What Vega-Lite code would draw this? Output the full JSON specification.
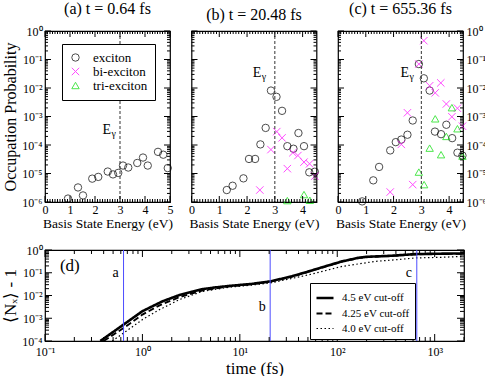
{
"$schema":"https://vega.github.io/schema/vega-lite/v6.json",
"background":"white",
"padding":{"left":1,"top":0,"right":2,"bottom":0},
"config":{
 "font":"Liberation Serif",
 "view":{"stroke":"black","strokeWidth":1.2},
 "axis":{"ticks":false,"domain":false,"grid":false,"labelOverlap":false,"labelFlush":false,"labelBound":false,"labelFont":"Liberation Serif","labelFontSize":12,"labelColor":"black","titleFont":"Liberation Serif","titleFontWeight":"normal","titleColor":"black"},
 "legend":{"labelFont":"Liberation Serif","titleFont":"Liberation Serif"},
 "title":{"font":"Liberation Serif"}
},
"datasets":{
 "occ":[
  {"panel":"a","type":"exciton","E":0.92,"P":1.32e-6},
  {"panel":"a","type":"exciton","E":1.32,"P":3.24e-6},
  {"panel":"a","type":"exciton","E":1.52,"P":1.70e-6},
  {"panel":"a","type":"exciton","E":1.89,"P":6.6e-6},
  {"panel":"a","type":"exciton","E":2.13,"P":7.6e-6},
  {"panel":"a","type":"exciton","E":2.51,"P":1.17e-5},
  {"panel":"a","type":"exciton","E":2.72,"P":9.3e-6},
  {"panel":"a","type":"exciton","E":2.93,"P":1.05e-5},
  {"panel":"a","type":"exciton","E":3.12,"P":1.9e-5},
  {"panel":"a","type":"exciton","E":3.33,"P":1.62e-5},
  {"panel":"a","type":"exciton","E":3.69,"P":2.34e-5},
  {"panel":"a","type":"exciton","E":3.92,"P":3.63e-5},
  {"panel":"a","type":"exciton","E":4.11,"P":1.9e-5},
  {"panel":"a","type":"exciton","E":4.52,"P":5.75e-5},
  {"panel":"a","type":"exciton","E":4.73,"P":4.57e-5},
  {"panel":"a","type":"exciton","E":4.91,"P":1.55e-5},
  {"panel":"b","type":"exciton","E":1.27,"P":2.63e-6},
  {"panel":"b","type":"exciton","E":1.48,"P":3.72e-6},
  {"panel":"b","type":"exciton","E":1.87,"P":6.76e-6},
  {"panel":"b","type":"exciton","E":2.07,"P":3.24e-5},
  {"panel":"b","type":"exciton","E":2.29,"P":3.24e-5},
  {"panel":"b","type":"exciton","E":2.48,"P":1.05e-4},
  {"panel":"b","type":"exciton","E":2.67,"P":3.98e-4},
  {"panel":"b","type":"exciton","E":2.86,"P":8.13e-3},
  {"panel":"b","type":"exciton","E":3.06,"P":4.9e-3},
  {"panel":"b","type":"exciton","E":3.26,"P":1.58e-3},
  {"panel":"b","type":"exciton","E":3.45,"P":9.1e-5},
  {"panel":"b","type":"exciton","E":3.67,"P":7.4e-5},
  {"panel":"b","type":"exciton","E":3.85,"P":2.63e-4},
  {"panel":"b","type":"exciton","E":4.05,"P":9.1e-5},
  {"panel":"b","type":"exciton","E":4.24,"P":1.1e-5},
  {"panel":"b","type":"exciton","E":4.44,"P":1.15e-5},
  {"panel":"b","type":"bi-exciton","E":2.46,"P":2.63e-6},
  {"panel":"b","type":"bi-exciton","E":2.86,"P":6.9e-5},
  {"panel":"b","type":"bi-exciton","E":3.07,"P":2.95e-4},
  {"panel":"b","type":"bi-exciton","E":3.26,"P":1.78e-4},
  {"panel":"b","type":"bi-exciton","E":3.45,"P":1.48e-5},
  {"panel":"b","type":"bi-exciton","E":3.65,"P":5.37e-5},
  {"panel":"b","type":"bi-exciton","E":3.83,"P":4.27e-5},
  {"panel":"b","type":"bi-exciton","E":4.05,"P":2.51e-5},
  {"panel":"b","type":"bi-exciton","E":4.25,"P":2.19e-5},
  {"panel":"b","type":"bi-exciton","E":4.44,"P":8.1e-6},
  {"panel":"b","type":"tri-exciton","E":3.45,"P":1.12e-6},
  {"panel":"b","type":"tri-exciton","E":4.05,"P":1.82e-6},
  {"panel":"b","type":"tri-exciton","E":4.26,"P":1.15e-6},
  {"panel":"c","type":"exciton","E":0.87,"P":1.05e-6},
  {"panel":"c","type":"exciton","E":1.27,"P":5.75e-6},
  {"panel":"c","type":"exciton","E":1.48,"P":1.7e-5},
  {"panel":"c","type":"exciton","E":1.88,"P":6.46e-5},
  {"panel":"c","type":"exciton","E":2.08,"P":1.26e-4},
  {"panel":"c","type":"exciton","E":2.28,"P":1.55e-4},
  {"panel":"c","type":"exciton","E":2.50,"P":2.29e-4},
  {"panel":"c","type":"exciton","E":2.69,"P":7.24e-4},
  {"panel":"c","type":"exciton","E":2.91,"P":6.92e-2},
  {"panel":"c","type":"exciton","E":3.09,"P":2.19e-2},
  {"panel":"c","type":"exciton","E":3.30,"P":8.13e-3},
  {"panel":"c","type":"exciton","E":3.49,"P":2.95e-4},
  {"panel":"c","type":"exciton","E":3.71,"P":2.4e-4},
  {"panel":"c","type":"exciton","E":3.90,"P":5.13e-4},
  {"panel":"c","type":"exciton","E":4.11,"P":1.74e-4},
  {"panel":"c","type":"exciton","E":4.30,"P":5.37e-5},
  {"panel":"c","type":"exciton","E":4.48,"P":4.27e-5},
  {"panel":"c","type":"bi-exciton","E":3.09,"P":0.457},
  {"panel":"c","type":"bi-exciton","E":2.91,"P":6.92e-2},
  {"panel":"c","type":"bi-exciton","E":3.30,"P":1.2e-2},
  {"panel":"c","type":"bi-exciton","E":3.50,"P":6.76e-3},
  {"panel":"c","type":"bi-exciton","E":3.70,"P":1.51e-2},
  {"panel":"c","type":"bi-exciton","E":3.90,"P":2.75e-3},
  {"panel":"c","type":"bi-exciton","E":4.10,"P":9.8e-4},
  {"panel":"c","type":"bi-exciton","E":4.30,"P":1.95e-3},
  {"panel":"c","type":"bi-exciton","E":4.48,"P":4.57e-4},
  {"panel":"c","type":"bi-exciton","E":2.50,"P":1.35e-3},
  {"panel":"c","type":"bi-exciton","E":2.28,"P":1.05e-4},
  {"panel":"c","type":"bi-exciton","E":2.69,"P":4.07e-6},
  {"panel":"c","type":"bi-exciton","E":1.88,"P":2.24e-6},
  {"panel":"c","type":"tri-exciton","E":3.50,"P":8.3e-4},
  {"panel":"c","type":"tri-exciton","E":4.10,"P":2.04e-3},
  {"panel":"c","type":"tri-exciton","E":4.30,"P":3.72e-4},
  {"panel":"c","type":"tri-exciton","E":3.90,"P":2.0e-4},
  {"panel":"c","type":"tri-exciton","E":3.30,"P":7.76e-5},
  {"panel":"c","type":"tri-exciton","E":3.71,"P":4.57e-5},
  {"panel":"c","type":"tri-exciton","E":4.48,"P":4.07e-5},
  {"panel":"c","type":"tri-exciton","E":2.91,"P":1.12e-5},
  {"panel":"c","type":"tri-exciton","E":3.10,"P":4.07e-6}
 ],
 "eg":[
  {"panel":"a","line":3,"E":2.47,"P":3.4e-4},
  {"panel":"b","line":3,"E":2.36,"P":0.0347},
  {"panel":"c","line":3,"E":2.4,"P":0.033}
 ],
 "xt5":[{"v":0},{"v":0.1},{"v":0.2},{"v":0.3},{"v":0.4},{"v":0.5},{"v":0.6},{"v":0.7},{"v":0.8},{"v":0.9},{"v":1},{"v":1.1},{"v":1.2},{"v":1.3},{"v":1.4},{"v":1.5},{"v":1.6},{"v":1.7},{"v":1.8},{"v":1.9},{"v":2},{"v":2.1},{"v":2.2},{"v":2.3},{"v":2.4},{"v":2.5},{"v":2.6},{"v":2.7},{"v":2.8},{"v":2.9},{"v":3},{"v":3.1},{"v":3.2},{"v":3.3},{"v":3.4},{"v":3.5},{"v":3.6},{"v":3.7},{"v":3.8},{"v":3.9},{"v":4},{"v":4.1},{"v":4.2},{"v":4.3},{"v":4.4},{"v":4.5},{"v":4.6},{"v":4.7},{"v":4.8},{"v":4.9},{"v":5}],
 "yt6":[{"v":1e-6},{"v":2e-6},{"v":3e-6},{"v":4e-6},{"v":5e-6},{"v":6e-6},{"v":7e-6},{"v":8e-6},{"v":9e-6},{"v":1e-5},{"v":2e-5},{"v":3e-5},{"v":4e-5},{"v":5e-5},{"v":6e-5},{"v":7e-5},{"v":8e-5},{"v":9e-5},{"v":0.0001},{"v":0.0002},{"v":0.0003},{"v":0.0004},{"v":0.0005},{"v":0.0006},{"v":0.0007},{"v":0.0008},{"v":0.0009},{"v":0.001},{"v":0.002},{"v":0.003},{"v":0.004},{"v":0.005},{"v":0.006},{"v":0.007},{"v":0.008},{"v":0.009},{"v":0.01},{"v":0.02},{"v":0.03},{"v":0.04},{"v":0.05},{"v":0.06},{"v":0.07},{"v":0.08},{"v":0.09},{"v":0.1},{"v":0.2},{"v":0.3},{"v":0.4},{"v":0.5},{"v":0.6},{"v":0.7},{"v":0.8},{"v":0.9},{"v":1}],
 "xtd":[{"v":0.1},{"v":0.2},{"v":0.3},{"v":0.4},{"v":0.5},{"v":0.6},{"v":0.7},{"v":0.8},{"v":0.9},{"v":1},{"v":2},{"v":3},{"v":4},{"v":5},{"v":6},{"v":7},{"v":8},{"v":9},{"v":10},{"v":20},{"v":30},{"v":40},{"v":50},{"v":60},{"v":70},{"v":80},{"v":90},{"v":100},{"v":200},{"v":300},{"v":400},{"v":500},{"v":600},{"v":700},{"v":800},{"v":900},{"v":1000},{"v":2000}],
 "ytd":[{"v":0.0001},{"v":0.0002},{"v":0.0003},{"v":0.0004},{"v":0.0005},{"v":0.0006},{"v":0.0007},{"v":0.0008},{"v":0.0009},{"v":0.001},{"v":0.002},{"v":0.003},{"v":0.004},{"v":0.005},{"v":0.006},{"v":0.007},{"v":0.008},{"v":0.009},{"v":0.01},{"v":0.02},{"v":0.03},{"v":0.04},{"v":0.05},{"v":0.06},{"v":0.07},{"v":0.08},{"v":0.09},{"v":0.1},{"v":0.2},{"v":0.3},{"v":0.4},{"v":0.5},{"v":0.6},{"v":0.7},{"v":0.8},{"v":0.9},{"v":1}],
 "nx":[
  {"cut":"4.5 eV cut-off","t":0.37,"n":1.0e-4},
  {"cut":"4.5 eV cut-off","t":0.64,"n":5.25e-4},
  {"cut":"4.5 eV cut-off","t":1.0,"n":2.04e-3},
  {"cut":"4.5 eV cut-off","t":1.6,"n":5.5e-3},
  {"cut":"4.5 eV cut-off","t":2.4,"n":1.05e-2},
  {"cut":"4.5 eV cut-off","t":3.2,"n":1.45e-2},
  {"cut":"4.5 eV cut-off","t":4.1,"n":1.9e-2},
  {"cut":"4.5 eV cut-off","t":5.5,"n":2.24e-2},
  {"cut":"4.5 eV cut-off","t":7.7,"n":2.63e-2},
  {"cut":"4.5 eV cut-off","t":13.3,"n":3.24e-2},
  {"cut":"4.5 eV cut-off","t":20.5,"n":4.17e-2},
  {"cut":"4.5 eV cut-off","t":34,"n":6.9e-2},
  {"cut":"4.5 eV cut-off","t":51,"n":0.115},
  {"cut":"4.5 eV cut-off","t":75,"n":0.19},
  {"cut":"4.5 eV cut-off","t":112,"n":0.316},
  {"cut":"4.5 eV cut-off","t":166,"n":0.457},
  {"cut":"4.5 eV cut-off","t":200,"n":0.5},
  {"cut":"4.5 eV cut-off","t":366,"n":0.562},
  {"cut":"4.5 eV cut-off","t":634,"n":0.66},
  {"cut":"4.5 eV cut-off","t":1190,"n":0.69},
  {"cut":"4.5 eV cut-off","t":2000,"n":0.71},
  {"cut":"4.25 eV cut-off","t":0.40,"n":1.0e-4},
  {"cut":"4.25 eV cut-off","t":0.64,"n":3.7e-4},
  {"cut":"4.25 eV cut-off","t":1.0,"n":1.45e-3},
  {"cut":"4.25 eV cut-off","t":1.5,"n":3.7e-3},
  {"cut":"4.25 eV cut-off","t":2.4,"n":8.5e-3},
  {"cut":"4.25 eV cut-off","t":4.1,"n":1.66e-2},
  {"cut":"4.25 eV cut-off","t":7.7,"n":2.51e-2},
  {"cut":"4.25 eV cut-off","t":13.3,"n":3.16e-2},
  {"cut":"4.25 eV cut-off","t":20.5,"n":4.07e-2},
  {"cut":"4.25 eV cut-off","t":34,"n":6.76e-2},
  {"cut":"4.25 eV cut-off","t":51,"n":0.112},
  {"cut":"4.25 eV cut-off","t":75,"n":0.186},
  {"cut":"4.25 eV cut-off","t":112,"n":0.309},
  {"cut":"4.25 eV cut-off","t":166,"n":0.447},
  {"cut":"4.25 eV cut-off","t":200,"n":0.49},
  {"cut":"4.25 eV cut-off","t":366,"n":0.55},
  {"cut":"4.25 eV cut-off","t":634,"n":0.646},
  {"cut":"4.25 eV cut-off","t":1190,"n":0.676},
  {"cut":"4.25 eV cut-off","t":2000,"n":0.676},
  {"cut":"4.0 eV cut-off","t":0.49,"n":1.0e-4},
  {"cut":"4.0 eV cut-off","t":0.64,"n":2.24e-4},
  {"cut":"4.0 eV cut-off","t":1.0,"n":8.7e-4},
  {"cut":"4.0 eV cut-off","t":1.5,"n":2.4e-3},
  {"cut":"4.0 eV cut-off","t":2.4,"n":6.6e-3},
  {"cut":"4.0 eV cut-off","t":4.1,"n":1.51e-2},
  {"cut":"4.0 eV cut-off","t":7.7,"n":2.29e-2},
  {"cut":"4.0 eV cut-off","t":13.3,"n":2.88e-2},
  {"cut":"4.0 eV cut-off","t":20.5,"n":3.55e-2},
  {"cut":"4.0 eV cut-off","t":51,"n":8.1e-2},
  {"cut":"4.0 eV cut-off","t":112,"n":0.19},
  {"cut":"4.0 eV cut-off","t":246,"n":0.316},
  {"cut":"4.0 eV cut-off","t":400,"n":0.372},
  {"cut":"4.0 eV cut-off","t":634,"n":0.447},
  {"cut":"4.0 eV cut-off","t":1190,"n":0.479},
  {"cut":"4.0 eV cut-off","t":2000,"n":0.525}
 ],
 "snap":[
  {"t":0.64,"lab":"a","n":0.098},
  {"t":20.48,"lab":"b","n":0.0031},
  {"t":655.36,"lab":"c","n":0.098}
 ],
 "dlab":[{"t":0.18,"n":0.2,"lab":"(d)"}]
},
"vconcat":[
 {"hconcat":[
  {"width":125,"height":171,
   "title":{"text":"(a) t = 0.64 fs","font":"Liberation Serif","fontSize":16,"fontWeight":"normal","color":"black","offset":8},
   "resolve":{"axis":{"x":"independent","y":"independent"}},
   "layer":[
    {"data":{"name":"occ"},"transform":[{"filter":"datum.panel==='a'"}],
     "mark":{"type":"point","filled":false,"strokeWidth":1,"size":55},
     "encoding":{
      "x":{"field":"E","type":"quantitative","scale":{"domain":[0,5],"nice":false,"zero":false},
        "axis":{"orient":"bottom","values":[0,1,2,3,4,5],"format":"d","labelPadding":2,"title":"Basis State Energy (eV)","titleFontSize":13.5,"titlePadding":1}},
      "y":{"field":"P","type":"quantitative","scale":{"type":"log","domain":[1e-6,1],"nice":false},
        "axis":{"orient":"left","values":[1e-6,1e-5,0.0001,0.001,0.01,0.1,1],
          "labelExpr":"['10⁻⁶','10⁻⁵','10⁻⁴','10⁻³','10⁻²','10⁻¹','10⁰'][round(log(datum.value)/LN10)+6]",
          "labelPadding":3,"title":"Occupation Probability","titleFontSize":16,"titlePadding":3}},
      "shape":{"field":"type","type":"nominal","scale":{"domain":["exciton","bi-exciton","tri-exciton"],"range":["circle","M-1,-1L1,1M1,-1L-1,1","triangle-up"]},
        "legend":{"orient":"none","legendX":17,"legendY":13,"title":null,"strokeColor":"black","fillColor":"white","padding":7,"labelFont":"Liberation Serif","labelFontSize":13,"labelColor":"black","symbolStrokeWidth":1,"symbolSize":55,"rowPadding":-1,"labelOffset":11,"zindex":2}},
      "color":{"field":"type","type":"nominal","scale":{"domain":["exciton","bi-exciton","tri-exciton"],"range":["black","#ff00ff","#00dd00"]},
        "legend":{"orient":"none","legendX":17,"legendY":13,"title":null,"strokeColor":"black","fillColor":"white","padding":7,"labelFont":"Liberation Serif","labelFontSize":13,"labelColor":"black","symbolStrokeWidth":1,"symbolSize":55,"rowPadding":-1,"labelOffset":11,"zindex":2}}
     }},
    {"data":{"name":"eg"},"transform":[{"filter":"datum.panel==='a'"}],
     "mark":{"type":"rule","strokeDash":[3,2],"color":"#333333","strokeWidth":1},
     "encoding":{"x":{"field":"line","type":"quantitative","axis":null}}},
    {"data":{"name":"eg"},"transform":[{"filter":"datum.panel==='a'"}],
     "mark":{"type":"text","text":"E","font":"Liberation Serif","fontSize":14,"baseline":"middle","align":"center","color":"black"},
     "encoding":{"x":{"field":"E","type":"quantitative","axis":null},"y":{"field":"P","type":"quantitative","scale":{"type":"log","domain":[1e-6,1],"nice":false},"axis":null}}},
    {"data":{"name":"eg"},"transform":[{"filter":"datum.panel==='a'"}],
     "mark":{"type":"text","text":"γ","font":"Liberation Serif","fontSize":10,"baseline":"middle","align":"center","dx":7,"dy":4,"color":"black"},
     "encoding":{"x":{"field":"E","type":"quantitative","axis":null},"y":{"field":"P","type":"quantitative","scale":{"type":"log","domain":[1e-6,1],"nice":false},"axis":null}}},
    {"data":{"name":"xt5"},"transform":[{"filter":"abs(datum.v-round(datum.v))<0.001"}],
     "mark":{"type":"tick","orient":"vertical","size":6,"thickness":1,"color":"black","opacity":1,"yOffset":-3},
     "encoding":{"x":{"field":"v","type":"quantitative","axis":null},"y":{"datum":1e-6,"scale":{"type":"log","domain":[1e-6,1],"nice":false},"axis":null}}},
    {"data":{"name":"xt5"},"transform":[{"filter":"abs(datum.v-round(datum.v))>=0.001"}],
     "mark":{"type":"tick","orient":"vertical","size":3,"thickness":1,"color":"black","opacity":1,"yOffset":-1.5},
     "encoding":{"x":{"field":"v","type":"quantitative","axis":null},"y":{"datum":1e-6,"scale":{"type":"log","domain":[1e-6,1],"nice":false},"axis":null}}},
    {"data":{"name":"xt5"},"transform":[{"filter":"abs(datum.v-round(datum.v))<0.001"}],
     "mark":{"type":"tick","orient":"vertical","size":6,"thickness":1,"color":"black","opacity":1,"yOffset":3},
     "encoding":{"x":{"field":"v","type":"quantitative","axis":null},"y":{"datum":1,"scale":{"type":"log","domain":[1e-6,1],"nice":false},"axis":null}}},
    {"data":{"name":"xt5"},"transform":[{"filter":"abs(datum.v-round(datum.v))>=0.001"}],
     "mark":{"type":"tick","orient":"vertical","size":3,"thickness":1,"color":"black","opacity":1,"yOffset":1.5},
     "encoding":{"x":{"field":"v","type":"quantitative","axis":null},"y":{"datum":1,"scale":{"type":"log","domain":[1e-6,1],"nice":false},"axis":null}}},
    {"data":{"name":"yt6"},"transform":[{"filter":"abs(log(datum.v)/LN10-round(log(datum.v)/LN10))<0.001"}],
     "mark":{"type":"tick","orient":"horizontal","size":6,"thickness":1,"color":"black","opacity":1,"xOffset":3},
     "encoding":{"y":{"field":"v","type":"quantitative","scale":{"type":"log","domain":[1e-6,1],"nice":false},"axis":null},"x":{"datum":0,"axis":null}}},
    {"data":{"name":"yt6"},"transform":[{"filter":"abs(log(datum.v)/LN10-round(log(datum.v)/LN10))>=0.001"}],
     "mark":{"type":"tick","orient":"horizontal","size":3,"thickness":1,"color":"black","opacity":1,"xOffset":1.5},
     "encoding":{"y":{"field":"v","type":"quantitative","scale":{"type":"log","domain":[1e-6,1],"nice":false},"axis":null},"x":{"datum":0,"axis":null}}},
    {"data":{"name":"yt6"},"transform":[{"filter":"abs(log(datum.v)/LN10-round(log(datum.v)/LN10))<0.001"}],
     "mark":{"type":"tick","orient":"horizontal","size":6,"thickness":1,"color":"black","opacity":1,"xOffset":-3},
     "encoding":{"y":{"field":"v","type":"quantitative","scale":{"type":"log","domain":[1e-6,1],"nice":false},"axis":null},"x":{"datum":5,"axis":null}}},
    {"data":{"name":"yt6"},"transform":[{"filter":"abs(log(datum.v)/LN10-round(log(datum.v)/LN10))>=0.001"}],
     "mark":{"type":"tick","orient":"horizontal","size":3,"thickness":1,"color":"black","opacity":1,"xOffset":-1.5},
     "encoding":{"y":{"field":"v","type":"quantitative","scale":{"type":"log","domain":[1e-6,1],"nice":false},"axis":null},"x":{"datum":5,"axis":null}}}
   ]},
  {"width":125,"height":171,
   "title":{"text":"(b) t = 20.48 fs","font":"Liberation Serif","fontSize":16,"fontWeight":"normal","color":"black","offset":8},
   "resolve":{"axis":{"x":"independent","y":"independent"}},
   "layer":[
    {"data":{"name":"occ"},"transform":[{"filter":"datum.panel==='b'"}],
     "mark":{"type":"point","filled":false,"strokeWidth":1,"size":55},
     "encoding":{
      "x":{"field":"E","type":"quantitative","scale":{"domain":[0,4.5],"nice":false,"zero":false},
        "axis":{"orient":"bottom","values":[0,1,2,3,4],"format":"d","labelPadding":2,"title":"Basis State Energy (eV)","titleFontSize":13.5,"titlePadding":1}},
      "y":{"field":"P","type":"quantitative","scale":{"type":"log","domain":[1e-6,1],"nice":false},"axis":null},
      "shape":{"field":"type","type":"nominal","scale":{"domain":["exciton","bi-exciton","tri-exciton"],"range":["circle","M-1,-1L1,1M1,-1L-1,1","triangle-up"]},"legend":null},
      "color":{"field":"type","type":"nominal","scale":{"domain":["exciton","bi-exciton","tri-exciton"],"range":["black","#ff00ff","#00dd00"]},"legend":null}
     }},
    {"data":{"name":"eg"},"transform":[{"filter":"datum.panel==='b'"}],
     "mark":{"type":"rule","strokeDash":[3,2],"color":"#333333","strokeWidth":1},
     "encoding":{"x":{"field":"line","type":"quantitative","axis":null}}},
    {"data":{"name":"eg"},"transform":[{"filter":"datum.panel==='b'"}],
     "mark":{"type":"text","text":"E","font":"Liberation Serif","fontSize":14,"baseline":"middle","align":"center","color":"black"},
     "encoding":{"x":{"field":"E","type":"quantitative","axis":null},"y":{"field":"P","type":"quantitative","scale":{"type":"log","domain":[1e-6,1],"nice":false},"axis":null}}},
    {"data":{"name":"eg"},"transform":[{"filter":"datum.panel==='b'"}],
     "mark":{"type":"text","text":"γ","font":"Liberation Serif","fontSize":10,"baseline":"middle","align":"center","dx":7,"dy":4,"color":"black"},
     "encoding":{"x":{"field":"E","type":"quantitative","axis":null},"y":{"field":"P","type":"quantitative","scale":{"type":"log","domain":[1e-6,1],"nice":false},"axis":null}}},
    {"data":{"name":"xt5"},"transform":[{"filter":"abs(datum.v-round(datum.v))<0.001 && datum.v<=4.501"}],
     "mark":{"type":"tick","orient":"vertical","size":6,"thickness":1,"color":"black","opacity":1,"yOffset":-3},
     "encoding":{"x":{"field":"v","type":"quantitative","axis":null},"y":{"datum":1e-6,"scale":{"type":"log","domain":[1e-6,1],"nice":false},"axis":null}}},
    {"data":{"name":"xt5"},"transform":[{"filter":"abs(datum.v-round(datum.v))>=0.001 && datum.v<=4.501"}],
     "mark":{"type":"tick","orient":"vertical","size":3,"thickness":1,"color":"black","opacity":1,"yOffset":-1.5},
     "encoding":{"x":{"field":"v","type":"quantitative","axis":null},"y":{"datum":1e-6,"scale":{"type":"log","domain":[1e-6,1],"nice":false},"axis":null}}},
    {"data":{"name":"xt5"},"transform":[{"filter":"abs(datum.v-round(datum.v))<0.001 && datum.v<=4.501"}],
     "mark":{"type":"tick","orient":"vertical","size":6,"thickness":1,"color":"black","opacity":1,"yOffset":3},
     "encoding":{"x":{"field":"v","type":"quantitative","axis":null},"y":{"datum":1,"scale":{"type":"log","domain":[1e-6,1],"nice":false},"axis":null}}},
    {"data":{"name":"xt5"},"transform":[{"filter":"abs(datum.v-round(datum.v))>=0.001 && datum.v<=4.501"}],
     "mark":{"type":"tick","orient":"vertical","size":3,"thickness":1,"color":"black","opacity":1,"yOffset":1.5},
     "encoding":{"x":{"field":"v","type":"quantitative","axis":null},"y":{"datum":1,"scale":{"type":"log","domain":[1e-6,1],"nice":false},"axis":null}}},
    {"data":{"name":"yt6"},"transform":[{"filter":"abs(log(datum.v)/LN10-round(log(datum.v)/LN10))<0.001"}],
     "mark":{"type":"tick","orient":"horizontal","size":6,"thickness":1,"color":"black","opacity":1,"xOffset":3},
     "encoding":{"y":{"field":"v","type":"quantitative","scale":{"type":"log","domain":[1e-6,1],"nice":false},"axis":null},"x":{"datum":0,"axis":null}}},
    {"data":{"name":"yt6"},"transform":[{"filter":"abs(log(datum.v)/LN10-round(log(datum.v)/LN10))>=0.001"}],
     "mark":{"type":"tick","orient":"horizontal","size":3,"thickness":1,"color":"black","opacity":1,"xOffset":1.5},
     "encoding":{"y":{"field":"v","type":"quantitative","scale":{"type":"log","domain":[1e-6,1],"nice":false},"axis":null},"x":{"datum":0,"axis":null}}},
    {"data":{"name":"yt6"},"transform":[{"filter":"abs(log(datum.v)/LN10-round(log(datum.v)/LN10))<0.001"}],
     "mark":{"type":"tick","orient":"horizontal","size":6,"thickness":1,"color":"black","opacity":1,"xOffset":-3},
     "encoding":{"y":{"field":"v","type":"quantitative","scale":{"type":"log","domain":[1e-6,1],"nice":false},"axis":null},"x":{"datum":4.5,"axis":null}}},
    {"data":{"name":"yt6"},"transform":[{"filter":"abs(log(datum.v)/LN10-round(log(datum.v)/LN10))>=0.001"}],
     "mark":{"type":"tick","orient":"horizontal","size":3,"thickness":1,"color":"black","opacity":1,"xOffset":-1.5},
     "encoding":{"y":{"field":"v","type":"quantitative","scale":{"type":"log","domain":[1e-6,1],"nice":false},"axis":null},"x":{"datum":4.5,"axis":null}}}
   ]},
  {"width":125,"height":171,
   "title":{"text":"(c) t = 655.36 fs","font":"Liberation Serif","fontSize":16,"fontWeight":"normal","color":"black","offset":8},
   "resolve":{"axis":{"x":"independent","y":"independent"}},
   "layer":[
    {"data":{"name":"occ"},"transform":[{"filter":"datum.panel==='c'"}],
     "mark":{"type":"point","filled":false,"strokeWidth":1,"size":55},
     "encoding":{
      "x":{"field":"E","type":"quantitative","scale":{"domain":[0,4.5],"nice":false,"zero":false},
        "axis":{"orient":"bottom","values":[0,1,2,3,4],"format":"d","labelPadding":2,"title":"Basis State Energy (eV)","titleFontSize":13.5,"titlePadding":1}},
      "y":{"field":"P","type":"quantitative","scale":{"type":"log","domain":[1e-6,1],"nice":false},
        "axis":{"orient":"right","values":[1e-6,1e-5,0.0001,0.001,0.01,0.1,1],"title":null,
          "labelExpr":"['10⁻⁶','10⁻⁵','10⁻⁴','10⁻³','10⁻²','10⁻¹','10⁰'][round(log(datum.value)/LN10)+6]",
          "labelPadding":3}},
      "shape":{"field":"type","type":"nominal","scale":{"domain":["exciton","bi-exciton","tri-exciton"],"range":["circle","M-1,-1L1,1M1,-1L-1,1","triangle-up"]},"legend":null},
      "color":{"field":"type","type":"nominal","scale":{"domain":["exciton","bi-exciton","tri-exciton"],"range":["black","#ff00ff","#00dd00"]},"legend":null}
     }},
    {"data":{"name":"eg"},"transform":[{"filter":"datum.panel==='c'"}],
     "mark":{"type":"rule","strokeDash":[3,2],"color":"#333333","strokeWidth":1},
     "encoding":{"x":{"field":"line","type":"quantitative","axis":null}}},
    {"data":{"name":"eg"},"transform":[{"filter":"datum.panel==='c'"}],
     "mark":{"type":"text","text":"E","font":"Liberation Serif","fontSize":14,"baseline":"middle","align":"center","color":"black"},
     "encoding":{"x":{"field":"E","type":"quantitative","axis":null},"y":{"field":"P","type":"quantitative","scale":{"type":"log","domain":[1e-6,1],"nice":false},"axis":null}}},
    {"data":{"name":"eg"},"transform":[{"filter":"datum.panel==='c'"}],
     "mark":{"type":"text","text":"γ","font":"Liberation Serif","fontSize":10,"baseline":"middle","align":"center","dx":7,"dy":4,"color":"black"},
     "encoding":{"x":{"field":"E","type":"quantitative","axis":null},"y":{"field":"P","type":"quantitative","scale":{"type":"log","domain":[1e-6,1],"nice":false},"axis":null}}},
    {"data":{"name":"xt5"},"transform":[{"filter":"abs(datum.v-round(datum.v))<0.001 && datum.v<=4.501"}],
     "mark":{"type":"tick","orient":"vertical","size":6,"thickness":1,"color":"black","opacity":1,"yOffset":-3},
     "encoding":{"x":{"field":"v","type":"quantitative","axis":null},"y":{"datum":1e-6,"scale":{"type":"log","domain":[1e-6,1],"nice":false},"axis":null}}},
    {"data":{"name":"xt5"},"transform":[{"filter":"abs(datum.v-round(datum.v))>=0.001 && datum.v<=4.501"}],
     "mark":{"type":"tick","orient":"vertical","size":3,"thickness":1,"color":"black","opacity":1,"yOffset":-1.5},
     "encoding":{"x":{"field":"v","type":"quantitative","axis":null},"y":{"datum":1e-6,"scale":{"type":"log","domain":[1e-6,1],"nice":false},"axis":null}}},
    {"data":{"name":"xt5"},"transform":[{"filter":"abs(datum.v-round(datum.v))<0.001 && datum.v<=4.501"}],
     "mark":{"type":"tick","orient":"vertical","size":6,"thickness":1,"color":"black","opacity":1,"yOffset":3},
     "encoding":{"x":{"field":"v","type":"quantitative","axis":null},"y":{"datum":1,"scale":{"type":"log","domain":[1e-6,1],"nice":false},"axis":null}}},
    {"data":{"name":"xt5"},"transform":[{"filter":"abs(datum.v-round(datum.v))>=0.001 && datum.v<=4.501"}],
     "mark":{"type":"tick","orient":"vertical","size":3,"thickness":1,"color":"black","opacity":1,"yOffset":1.5},
     "encoding":{"x":{"field":"v","type":"quantitative","axis":null},"y":{"datum":1,"scale":{"type":"log","domain":[1e-6,1],"nice":false},"axis":null}}},
    {"data":{"name":"yt6"},"transform":[{"filter":"abs(log(datum.v)/LN10-round(log(datum.v)/LN10))<0.001"}],
     "mark":{"type":"tick","orient":"horizontal","size":6,"thickness":1,"color":"black","opacity":1,"xOffset":3},
     "encoding":{"y":{"field":"v","type":"quantitative","scale":{"type":"log","domain":[1e-6,1],"nice":false},"axis":null},"x":{"datum":0,"axis":null}}},
    {"data":{"name":"yt6"},"transform":[{"filter":"abs(log(datum.v)/LN10-round(log(datum.v)/LN10))>=0.001"}],
     "mark":{"type":"tick","orient":"horizontal","size":3,"thickness":1,"color":"black","opacity":1,"xOffset":1.5},
     "encoding":{"y":{"field":"v","type":"quantitative","scale":{"type":"log","domain":[1e-6,1],"nice":false},"axis":null},"x":{"datum":0,"axis":null}}},
    {"data":{"name":"yt6"},"transform":[{"filter":"abs(log(datum.v)/LN10-round(log(datum.v)/LN10))<0.001"}],
     "mark":{"type":"tick","orient":"horizontal","size":6,"thickness":1,"color":"black","opacity":1,"xOffset":-3},
     "encoding":{"y":{"field":"v","type":"quantitative","scale":{"type":"log","domain":[1e-6,1],"nice":false},"axis":null},"x":{"datum":4.5,"axis":null}}},
    {"data":{"name":"yt6"},"transform":[{"filter":"abs(log(datum.v)/LN10-round(log(datum.v)/LN10))>=0.001"}],
     "mark":{"type":"tick","orient":"horizontal","size":3,"thickness":1,"color":"black","opacity":1,"xOffset":-1.5},
     "encoding":{"y":{"field":"v","type":"quantitative","scale":{"type":"log","domain":[1e-6,1],"nice":false},"axis":null},"x":{"datum":4.5,"axis":null}}}
   ]}
 ],
 "spacing":12.5,
 "resolve":{"scale":{"color":"independent","shape":"independent"},"legend":{"color":"independent","shape":"independent"}}
 },
 {"width":419,"height":91,
  "resolve":{"axis":{"x":"independent","y":"independent"}},
  "layer":[
   {"data":{"name":"nx"},
    "mark":{"type":"line","clip":true,"color":"black"},
    "encoding":{
     "x":{"field":"t","type":"quantitative","scale":{"type":"log","domain":[0.1,2000],"nice":false},
       "axis":{"orient":"bottom","values":[0.1,1,10,100,1000],
         "labelExpr":"['10⁻¹','10⁰','10¹','10²','10³'][round(log(datum.value)/LN10)+1]",
         "labelPadding":5,"title":"time (fs)","titleFontSize":17,"titlePadding":3}},
     "y":{"field":"n","type":"quantitative","scale":{"type":"log","domain":[0.0001,1],"nice":false},
       "axis":{"orient":"left","values":[0.0001,0.001,0.01,0.1,1],
         "labelExpr":"['10⁻⁴','10⁻³','10⁻²','10⁻¹','10⁰'][round(log(datum.value)/LN10)+4]",
         "labelPadding":3,"title":"⟨Nₓ⟩ - 1","titleFontSize":17,"titlePadding":2}},
     "strokeDash":{"field":"cut","type":"nominal","scale":{"domain":["4.5 eV cut-off","4.25 eV cut-off","4.0 eV cut-off"],"range":[[1,0],[6,3],[1.5,2.5]]},
       "legend":{"orient":"none","legendX":265,"legendY":33,"title":null,"strokeColor":"black","fillColor":"white","padding":5,"labelFont":"Liberation Serif","labelFontSize":11,"labelColor":"black","symbolSize":289,"symbolStrokeColor":"black","rowPadding":0,"labelOffset":7,"zindex":2}},
     "strokeWidth":{"field":"cut","type":"nominal","scale":{"type":"point","domain":["4.5 eV cut-off","4.25 eV cut-off","4.0 eV cut-off"],"range":[2.6,1.2]},
       "legend":{"orient":"none","legendX":265,"legendY":33,"title":null,"strokeColor":"black","fillColor":"white","padding":5,"labelFont":"Liberation Serif","labelFontSize":11,"labelColor":"black","symbolSize":289,"symbolStrokeColor":"black","rowPadding":0,"labelOffset":7,"zindex":2}}
    }},
   {"data":{"name":"snap"},
    "mark":{"type":"rule","color":"#4d4dff","strokeWidth":1},
    "encoding":{"x":{"field":"t","type":"quantitative","scale":{"type":"log","domain":[0.1,2000],"nice":false},"axis":null}}},
   {"data":{"name":"snap"},
    "mark":{"type":"text","font":"Liberation Serif","fontSize":14,"baseline":"middle","align":"center","dx":-8,"color":"black"},
    "encoding":{
     "text":{"field":"lab"},
     "x":{"field":"t","type":"quantitative","scale":{"type":"log","domain":[0.1,2000],"nice":false},"axis":null},
     "y":{"field":"n","type":"quantitative","scale":{"type":"log","domain":[0.0001,1],"nice":false},"axis":null}
    }},
   {"data":{"name":"dlab"},
    "mark":{"type":"text","font":"Liberation Serif","fontSize":17,"baseline":"middle","align":"center","color":"black"},
    "encoding":{
     "text":{"field":"lab"},
     "x":{"field":"t","type":"quantitative","scale":{"type":"log","domain":[0.1,2000],"nice":false},"axis":null},
     "y":{"field":"n","type":"quantitative","scale":{"type":"log","domain":[0.0001,1],"nice":false},"axis":null}
    }},
   {"data":{"name":"xtd"},"transform":[{"filter":"abs(log(datum.v)/LN10-round(log(datum.v)/LN10))<0.001"}],
    "mark":{"type":"tick","orient":"vertical","size":7,"thickness":1,"color":"black","opacity":1,"yOffset":-3.5},
    "encoding":{"x":{"field":"v","type":"quantitative","scale":{"type":"log","domain":[0.1,2000],"nice":false},"axis":null},"y":{"datum":0.0001,"scale":{"type":"log","domain":[0.0001,1],"nice":false},"axis":null}}},
   {"data":{"name":"xtd"},"transform":[{"filter":"abs(log(datum.v)/LN10-round(log(datum.v)/LN10))>=0.001"}],
    "mark":{"type":"tick","orient":"vertical","size":4,"thickness":1,"color":"black","opacity":1,"yOffset":-2},
    "encoding":{"x":{"field":"v","type":"quantitative","scale":{"type":"log","domain":[0.1,2000],"nice":false},"axis":null},"y":{"datum":0.0001,"scale":{"type":"log","domain":[0.0001,1],"nice":false},"axis":null}}},
   {"data":{"name":"xtd"},"transform":[{"filter":"abs(log(datum.v)/LN10-round(log(datum.v)/LN10))<0.001"}],
    "mark":{"type":"tick","orient":"vertical","size":7,"thickness":1,"color":"black","opacity":1,"yOffset":3.5},
    "encoding":{"x":{"field":"v","type":"quantitative","scale":{"type":"log","domain":[0.1,2000],"nice":false},"axis":null},"y":{"datum":1,"scale":{"type":"log","domain":[0.0001,1],"nice":false},"axis":null}}},
   {"data":{"name":"xtd"},"transform":[{"filter":"abs(log(datum.v)/LN10-round(log(datum.v)/LN10))>=0.001"}],
    "mark":{"type":"tick","orient":"vertical","size":4,"thickness":1,"color":"black","opacity":1,"yOffset":2},
    "encoding":{"x":{"field":"v","type":"quantitative","scale":{"type":"log","domain":[0.1,2000],"nice":false},"axis":null},"y":{"datum":1,"scale":{"type":"log","domain":[0.0001,1],"nice":false},"axis":null}}},
   {"data":{"name":"ytd"},"transform":[{"filter":"abs(log(datum.v)/LN10-round(log(datum.v)/LN10))<0.001"}],
    "mark":{"type":"tick","orient":"horizontal","size":7,"thickness":1,"color":"black","opacity":1,"xOffset":3.5},
    "encoding":{"y":{"field":"v","type":"quantitative","scale":{"type":"log","domain":[0.0001,1],"nice":false},"axis":null},"x":{"datum":0.1,"scale":{"type":"log","domain":[0.1,2000],"nice":false},"axis":null}}},
   {"data":{"name":"ytd"},"transform":[{"filter":"abs(log(datum.v)/LN10-round(log(datum.v)/LN10))>=0.001"}],
    "mark":{"type":"tick","orient":"horizontal","size":4,"thickness":1,"color":"black","opacity":1,"xOffset":2},
    "encoding":{"y":{"field":"v","type":"quantitative","scale":{"type":"log","domain":[0.0001,1],"nice":false},"axis":null},"x":{"datum":0.1,"scale":{"type":"log","domain":[0.1,2000],"nice":false},"axis":null}}},
   {"data":{"name":"ytd"},"transform":[{"filter":"abs(log(datum.v)/LN10-round(log(datum.v)/LN10))<0.001"}],
    "mark":{"type":"tick","orient":"horizontal","size":7,"thickness":1,"color":"black","opacity":1,"xOffset":-3.5},
    "encoding":{"y":{"field":"v","type":"quantitative","scale":{"type":"log","domain":[0.0001,1],"nice":false},"axis":null},"x":{"datum":2000,"scale":{"type":"log","domain":[0.1,2000],"nice":false},"axis":null}}},
   {"data":{"name":"ytd"},"transform":[{"filter":"abs(log(datum.v)/LN10-round(log(datum.v)/LN10))>=0.001"}],
    "mark":{"type":"tick","orient":"horizontal","size":4,"thickness":1,"color":"black","opacity":1,"xOffset":-2},
    "encoding":{"y":{"field":"v","type":"quantitative","scale":{"type":"log","domain":[0.0001,1],"nice":false},"axis":null},"x":{"datum":2000,"scale":{"type":"log","domain":[0.1,2000],"nice":false},"axis":null}}}
  ]}
],
"spacing":12,
"resolve":{"scale":{"strokeDash":"independent","strokeWidth":"independent"},"legend":{"strokeDash":"independent","strokeWidth":"independent"}}
}
